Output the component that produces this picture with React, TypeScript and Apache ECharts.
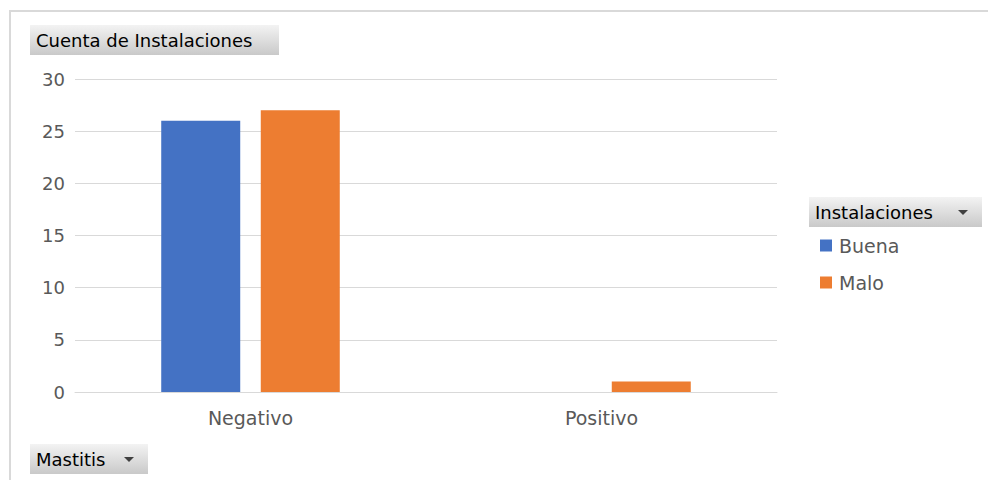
import React, { useEffect, useRef } from "react";
import * as echarts from "echarts";

const categories = ["Negativo", "Positivo"];
const buenaValues: (number | null)[] = [26, null];
const maloValues: (number | null)[] = [27, 1];
const seriesNames = ["Buena", "Malo"];
const yTicks = { min: 0, max: 30, interval: 5 };
const valueFieldLabel = "Cuenta de Instalaciones";
const legendFieldLabel = "Instalaciones";
const axisFieldLabel = "Mastitis";

const FONT = "DejaVu Sans";

const buttonFill = new echarts.graphic.LinearGradient(0, 0, 0, 1, [
  { offset: 0, color: "#f3f3f3" },
  { offset: 1, color: "#c9c9c9" },
]);

function button(x: number, y: number, w: number, h: number, label: string, arrow: boolean) {
  const children: any[] = [
    { type: "rect", shape: { x: 0, y: 0, width: w, height: h }, style: { fill: buttonFill } },
    {
      type: "text",
      x: 6,
      y: h / 2,
      style: { text: label, fill: "#000", font: `18px '${FONT}'`, textVerticalAlign: "middle" },
    },
  ];
  if (arrow) {
    children.push({
      type: "polygon",
      shape: { points: [[w - 24, h / 2 - 2], [w - 14, h / 2 - 2], [w - 19, h / 2 + 3]] },
      style: { fill: "#404040" },
    });
  }
  return { type: "group", x, y, children };
}

export default function App() {
  const ref = useRef<HTMLDivElement>(null);
  useEffect(() => {
    if (!ref.current) return;
    const chart = echarts.init(ref.current, null, { renderer: "svg" });
    chart.setOption({
      animation: false,
      backgroundColor: "#ffffff",
      grid: { left: 75, right: 211, top: 79, bottom: 88 },
      xAxis: {
        type: "category",
        data: categories,
        axisLine: { lineStyle: { color: "#d9d9d9", width: 1 } },
        axisTick: { show: false },
        axisLabel: { color: "#595959", fontSize: 19, fontFamily: FONT, margin: 16 },
      },
      yAxis: {
        type: "value",
        min: yTicks.min,
        max: yTicks.max,
        interval: yTicks.interval,
        axisLine: { show: false },
        axisTick: { show: false },
        splitLine: { lineStyle: { color: "#d9d9d9", width: 1 } },
        axisLabel: { color: "#595959", fontSize: 18, fontFamily: FONT, margin: 10 },
      },
      legend: {
        orient: "vertical",
        left: 815,
        top: 231,
        itemWidth: 12,
        itemHeight: 12,
        itemGap: 18,
        icon: "rect",
        textStyle: { color: "#595959", fontSize: 19, fontFamily: FONT, padding: [0, 0, 0, 2] },
        data: seriesNames,
      },
      series: [
        {
          name: seriesNames[0],
          type: "bar",
          data: buenaValues,
          barWidth: 79,
          barGap: "26%",
          itemStyle: { color: "#4472c4" },
        },
        {
          name: seriesNames[1],
          type: "bar",
          data: maloValues,
          barWidth: 79,
          barGap: "26%",
          itemStyle: { color: "#ed7d31" },
        },
      ],
      graphic: [
        {
          type: "polyline",
          shape: { points: [[10, 480], [10, 11], [988, 11]] },
          style: { stroke: "#d9d9d9", lineWidth: 2, fill: "none" },
        },
        button(30, 25, 249, 30, valueFieldLabel, false),
        button(809, 197, 173, 30, legendFieldLabel, true),
        button(30, 444, 118, 30, axisFieldLabel, true),
      ],
    });
    return () => chart.dispose();
  }, []);
  return (
    <div
      ref={ref}
      style={{ position: "absolute", left: 0, top: 0, width: 988, height: 480 }}
    />
  );
}
